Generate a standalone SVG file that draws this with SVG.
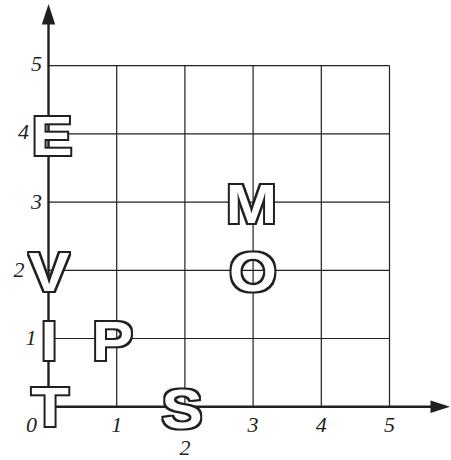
<svg xmlns="http://www.w3.org/2000/svg" width="451" height="460" viewBox="0 0 451 460">
<style>
.grid{stroke:#231f20;stroke-width:1.2;fill:none}
.axis{stroke:#231f20;stroke-width:2.4;fill:none}
.head{fill:#231f20}
.num{font-family:"Liberation Serif","Times New Roman",serif;font-style:italic;font-size:22px;fill:#231f20}
.lt{font-family:"Liberation Sans",Arial,sans-serif;font-weight:bold;font-size:56px;text-anchor:middle;fill:#fff;filter:url(#ol)}
</style>
<defs>
<filter id="ol" x="-30%" y="-30%" width="160%" height="160%" color-interpolation-filters="sRGB">
<feMorphology in="SourceAlpha" operator="dilate" radius="2" result="big"/>
<feFlood flood-color="#231f20" result="fb"/>
<feComposite in="fb" in2="big" operator="in" result="blk"/>
<feFlood flood-color="#ffffff" result="fw"/>
<feComposite in="fw" in2="SourceAlpha" operator="in" result="wht"/>
<feMerge><feMergeNode in="blk"/><feMergeNode in="wht"/></feMerge>
</filter>
</defs>
<rect width="451" height="460" fill="#fff"/>
<g id="connectors">
<g id="grid">
<path class="grid" d="M116.7 406.7V65.7M184.9 406.7V65.7M253.1 406.7V65.7M321.3 406.7V65.7M389.5 406.7V65.7"/>
<path class="grid" d="M48.5 338.5H389.5M48.5 270.3H389.5M48.5 202.1H389.5M48.5 133.9H389.5M48.5 65.7H389.5"/>
</g>
<g id="axes">
<path class="axis" d="M48.5 406.7V22"/>
<path class="head" d="M48.5 4L41.8 24.5L55.2 24.5Z"/>
<path class="axis" d="M48.5 406.7H432"/>
<path class="head" d="M450 406.7L430.5 400.5L430.5 412.9Z"/>
</g>
</g>
<g id="labels">
<text class="num" x="42" y="71" text-anchor="end">5</text>
<text class="num" x="29" y="138.5" text-anchor="end">4</text>
<text class="num" x="42" y="208.5" text-anchor="end">3</text>
<text class="num" x="24.5" y="276.5" text-anchor="end">2</text>
<text class="num" x="36.5" y="345" text-anchor="end">1</text>
<text class="num" x="37" y="432" text-anchor="end">0</text>
<text class="num" x="116.7" y="432" text-anchor="middle">1</text>
<text class="num" x="184.9" y="455" text-anchor="middle">2</text>
<text class="num" x="253.1" y="432" text-anchor="middle">3</text>
<text class="num" x="321.3" y="432" text-anchor="middle">4</text>
<text class="num" x="389.5" y="432" text-anchor="middle">5</text>
</g>
<g id="node-E" transform="translate(52,134.5) scale(1.1,1)"><text class="lt" x="0" y="20">E</text></g>
<g id="node-M" transform="translate(251.5,202.8) scale(1.1,1)"><text class="lt" x="0" y="20">M</text></g>
<g id="node-V" transform="translate(49,271) scale(1.1,1)"><text class="lt" x="0" y="20">V</text></g>
<g id="node-O" transform="translate(253,270.7) scale(1.1,1)"><text class="lt" x="0" y="20">O</text></g>
<g id="node-I" transform="translate(49,339.8) scale(1.1,1)"><text class="lt" x="0" y="20">I</text></g>
<g id="node-P" transform="translate(112.5,339.5) scale(1.1,1)"><text class="lt" x="0" y="20">P</text></g>
<g id="node-T" transform="translate(50,405.7) scale(1.1,1)"><text class="lt" x="0" y="20">T</text></g>
<g id="node-S" transform="translate(182,408) scale(1.1,1)"><text class="lt" x="0" y="20">S</text></g>
</svg>
